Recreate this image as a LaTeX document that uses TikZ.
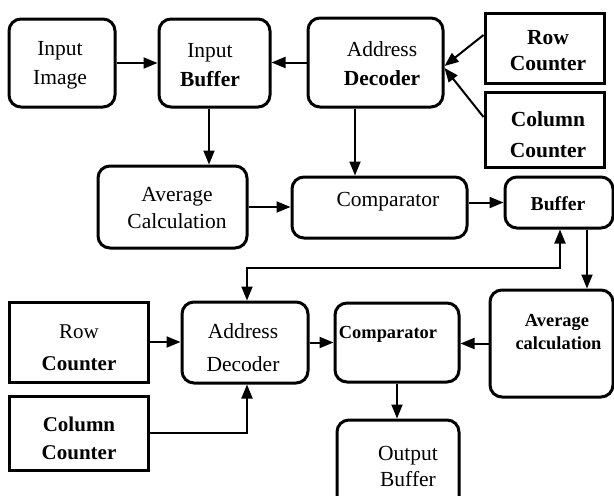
\documentclass[tikz,border=0pt]{standalone}
\usepackage{fontspec}
\setmainfont{Liberation Serif}
\usetikzlibrary{arrows.meta}
\begin{document}
\begin{tikzpicture}[x=1pt,y=-1pt,
  rbox/.style={draw, line width=3pt, rounded corners=12pt, inner sep=0pt},
  sbox/.style={draw, line width=3pt, inner sep=0pt},
  txt/.style={inner sep=0pt, align=center, font=\fontsize{21.5}{29}\selectfont},
  stxt/.style={inner sep=0pt, align=center, font=\fontsize{18.4}{23}\selectfont\bfseries},
  arr/.style={line width=2pt, -{Triangle[length=14pt,width=11pt]}},
  darr/.style={line width=2pt, {Triangle[length=14pt,width=11pt]}-{Triangle[length=14pt,width=11pt]}}
]
\useasboundingbox (0,0) rectangle (614,496);
\clip (0,0) rectangle (614,496);
% top row
\node[rbox, minimum width=106pt, minimum height=88pt] (img) at (62,63) {};
\node[txt] (imgT) at (60,65) {Input\\Image};
\node[rbox, minimum width=111pt, minimum height=88pt] (ibuf) at (214.5,63) {};
\node[txt] (ibufT) at (210,65) {Input\\\textbf{Buffer}};
\node[rbox, minimum width=135pt, minimum height=89pt] (adec) at (375.5,62.5) {};
\node[txt] (adecT) at (382,64) {Address\\\textbf{Decoder}};
\node[sbox, minimum width=119pt, minimum height=70pt] (rowc) at (544.5,48) {};
\node[txt, font=\fontsize{21.5}{26}\selectfont\bfseries] (rowcT) at (548,51) {Row\\Counter};
\node[sbox, minimum width=119pt, minimum height=75pt] (colc) at (544.5,129.5) {};
\node[txt, font=\fontsize{21.5}{31}\selectfont\bfseries] (colcT) at (548,134.5) {Column\\Counter};
% second row
\node[rbox, minimum width=149pt, minimum height=82pt] (avg) at (172.5,207) {};
\node[txt, font=\fontsize{21.5}{27}\selectfont] (avgT) at (177,208) {Average\\Calculation};
\node[rbox, minimum width=175pt, minimum height=61pt] (cmp) at (379.5,207.5) {};
\node[txt] (cmpT) at (388,202) {Comparator};
\node[rbox, minimum width=108pt, minimum height=51pt] (buf) at (559,202.5) {};
\node[txt, font=\fontsize{19.7}{24}\selectfont\bfseries] (bufT) at (558,204) {Buffer};
% bottom section
\node[sbox, minimum width=139pt, minimum height=80pt] (rowc2) at (78.5,342) {};
\node[txt, font=\fontsize{21}{32}\selectfont] (rowc2T) at (79,348) {Row\\\textbf{Counter}};
\node[sbox, minimum width=139pt, minimum height=74pt] (colc2) at (78.5,433) {};
\node[txt, font=\fontsize{21}{28}\selectfont\bfseries] (colc2T) at (79,438) {Column\\Counter};
\node[rbox, minimum width=126pt, minimum height=81pt] (adec2) at (245,342.5) {};
\node[txt, font=\fontsize{21.5}{33}\selectfont] (adec2T) at (243,348) {Address\\Decoder};
\node[rbox, minimum width=124pt, minimum height=79pt] (cmp2) at (397,342.5) {};
\node[stxt] (cmp2T) at (388,334) {Comparator};
\node[rbox, minimum width=123pt, minimum height=107pt] (avg2) at (551.5,343.5) {};
\node[stxt] (avg2T) at (557,332) {Average\\\hspace*{3pt}calculation};
\node[rbox, minimum width=122pt, minimum height=110pt] (obuf) at (398,475) {};
\node[txt, font=\fontsize{21.5}{26}\selectfont] (obufT) at (408,466) {Output\\Buffer};
% coordinates for feedback loop
\coordinate (fbA) at (247,268);
\coordinate (fbB) at (560,268);
% connectors
\draw[arr] (img.east) -- (ibuf.west);
\draw[arr] (adec.west) -- (adec.west -| ibuf.east);
\draw[arr] ([xshift=-5.5pt]ibuf.south) -- ([xshift=-5.5pt]ibuf.south |- avg.north);
\draw[arr] ([yshift=13pt]rowc.west) -- ([yshift=-3.5pt]adec.east);
\draw[arr] ([yshift=12.5pt]colc.west) -- ([yshift=-5.5pt]adec.east);
\draw[arr] ([xshift=-20.5pt]adec.south) -- ([xshift=-20.5pt]adec.south |- cmp.north);
\draw[arr] (avg.east) -- (avg.east -| cmp.west);
\draw[arr] (buf.west -| cmp.east) -- (buf.west);
\draw[arr] ([xshift=28pt]buf.south) -- ([xshift=28pt]buf.south |- avg2.north);
\draw[darr] ([xshift=2pt]adec2.north) -- (fbA) -- (fbB) -- (fbB |- buf.south);
\draw[arr] (rowc2.east) -- (rowc2.east -| adec2.west);
\draw[arr] (colc2.east) -| ([xshift=2pt]adec2.south);
\draw[arr] (adec2.east) -- (adec2.east -| cmp2.west);
\draw[arr] (avg2.west) -- (avg2.west -| cmp2.east);
\draw[arr] (cmp2.south) -- (cmp2.south |- obuf.north);
\end{tikzpicture}
\end{document}
